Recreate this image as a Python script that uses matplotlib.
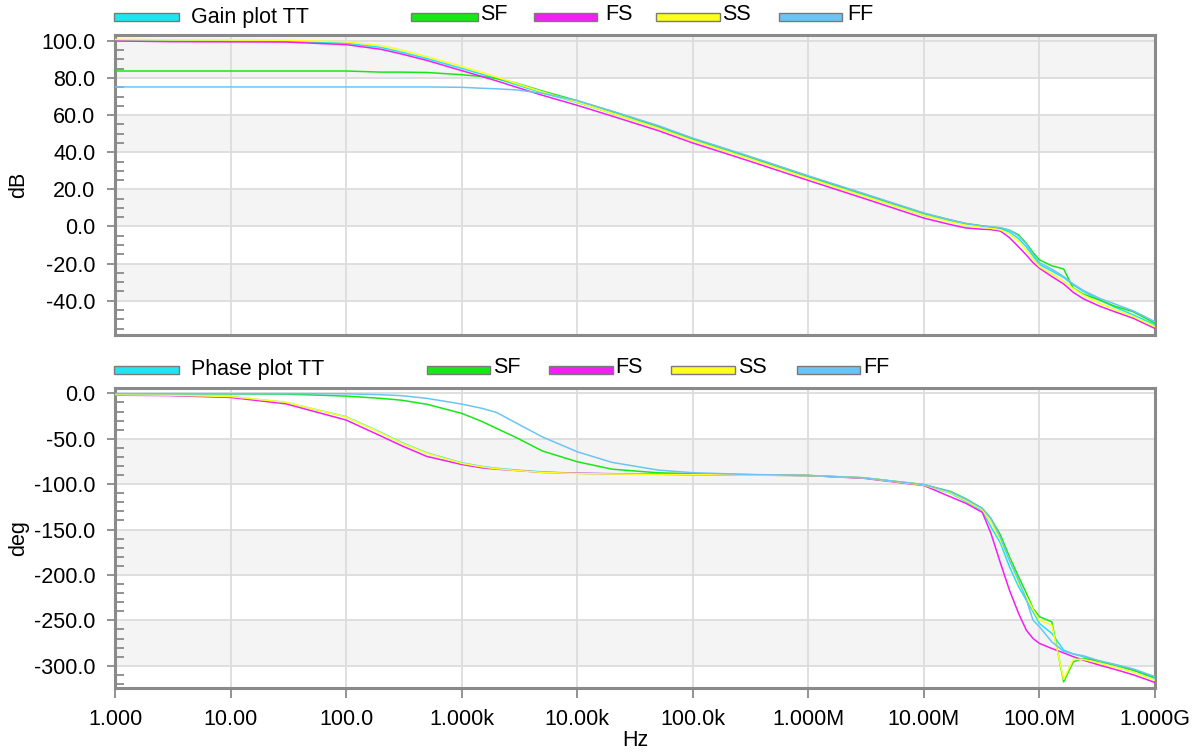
import matplotlib
matplotlib.use("Agg")
import matplotlib.pyplot as plt
from matplotlib.patches import Rectangle
from matplotlib.ticker import FixedLocator, MultipleLocator, NullLocator

# ---- data -------------------------------------------------------------
freq = [1, 3, 10, 30, 100, 200, 300, 500, 1e3, 1.5e3, 2e3, 3e3, 5e3,
        1e4, 2e4, 5e4, 1e5, 3e5, 1e6, 3e6,
        1e7, 1.7e7, 2.3e7, 3.2e7, 3.8e7, 4.6e7, 5.5e7, 6.6e7, 7.7e7, 8.8e7,
        1e8, 1.28e8, 1.62e8, 1.96e8, 2.4e8, 3.3e8, 4.5e8, 6.5e8, 1e9]

gain_tt = [100.2, 100.0, 99.9, 99.8, 98.8, 96.5, 94.0, 90.5, 85.2, 82.0, 79.7, 76.3, 72.0,
           66.8, 61.0, 53.2, 46.5, 37.0, 26.3, 16.8,
           6.0, 3.0, 1.3, 0.0, -0.6, -1.2, -3.0, -6.5, -11.0, -16.0,
           -20.5, -24.0, -27.5, -31.5, -35.0, -39.6, -43.5, -47.7, -53.0]
gain_sf = [83.8, 83.8, 83.8, 83.8, 83.8, 83.2, 83.2, 83.0, 81.8, 80.8, 79.8, 77.2, 73.0,
           67.8, 62.0, 54.0, 47.3, 37.8, 27.0, 17.5,
           7.0, 3.5, 1.6, 0.3, -0.3, -0.8, -2.0, -4.5, -9.1, -14.0,
           -18.0, -21.2, -22.9, -33.3, -36.5, -39.6, -43.0, -46.0, -52.2]
gain_fs = [100.0, 99.6, 99.5, 99.4, 98.0, 95.5, 93.0, 89.5, 84.0, 80.8, 78.5, 75.0, 70.7,
           65.3, 59.5, 51.7, 45.0, 35.5, 24.8, 15.2,
           4.5, 1.0, -0.8, -1.5, -1.7, -2.5, -6.0, -11.0, -15.4, -19.5,
           -22.5, -27.0, -31.0, -35.5, -39.0, -42.9, -46.0, -49.5, -55.0]
gain_ss = [100.8, 100.6, 100.5, 100.4, 99.5, 97.5, 95.2, 91.5, 86.3, 83.0, 80.5, 77.0, 72.5,
           67.0, 61.0, 53.0, 46.3, 36.8, 26.0, 16.5,
           6.0, 2.5, 0.8, -0.5, -1.0, -1.8, -4.0, -8.0, -12.7, -17.5,
           -21.7, -25.5, -29.5, -33.5, -37.0, -41.4, -44.8, -48.6, -54.0]
gain_ff = [75.2, 75.2, 75.2, 75.2, 75.2, 75.2, 75.2, 75.2, 75.0, 74.5, 74.2, 73.6, 71.8,
           67.8, 62.2, 54.4, 47.6, 38.1, 27.3, 17.8,
           7.3, 3.5, 1.6, 0.3, -0.2, -0.7, -2.0, -5.0, -9.5, -15.0,
           -19.5, -23.0, -27.0, -31.0, -34.5, -38.7, -41.8, -45.5, -51.3]

phase_tt = [-1.5, -2.0, -3.5, -10.0, -25.7, -43.0, -54.0, -65.5, -76.5, -80.5, -82.5, -84.5, -86.5,
            -88.0, -88.7, -89.2, -89.5, -90.0, -90.5, -93.0,
            -101.0, -110.0, -119.0, -129.0, -147.0, -165.0, -191.0, -213.0, -227.7, -240.6,
            -253.4, -264.4, -282.8, -287.0, -290.0, -295.7, -299.5, -304.8, -314.0]
phase_sf = [-0.5, -0.5, -0.6, -0.8, -3.0, -5.5, -7.5, -12.0, -22.0, -31.0, -38.5, -49.0, -63.5,
            -75.3, -83.5, -87.5, -88.5, -89.5, -90.5, -93.0,
            -100.5, -108.0, -116.0, -126.7, -137.7, -156.0, -180.0, -202.0, -220.0, -236.8,
            -246.0, -251.6, -317.7, -295.7, -292.0, -295.0, -299.0, -305.0, -313.0]
phase_fs = [-2.0, -2.5, -4.5, -11.5, -29.4, -47.0, -57.5, -69.5, -78.3, -82.0, -83.5, -85.0, -87.0,
            -88.0, -88.5, -89.0, -89.5, -90.0, -90.5, -93.5,
            -101.5, -114.0, -121.0, -131.0, -154.0, -187.0, -216.7, -242.4, -260.8, -270.0,
            -275.4, -281.0, -285.8, -290.0, -293.8, -299.3, -304.0, -310.0, -318.4]
phase_ss = [-1.5, -2.0, -3.5, -9.8, -26.0, -43.5, -54.5, -66.0, -77.0, -81.0, -83.0, -85.0, -87.0,
            -88.3, -88.8, -89.3, -89.6, -90.0, -90.5, -93.0,
            -101.0, -109.5, -118.0, -128.0, -142.0, -161.6, -183.6, -209.0, -224.0, -238.0,
            -249.8, -255.3, -315.0, -293.0, -293.0, -297.0, -301.5, -307.0, -316.0]
phase_ff = [-0.3, -0.3, -0.3, -0.3, -0.5, -1.5, -2.5, -5.5, -11.8, -16.5, -21.0, -33.0, -48.0,
            -64.3, -76.0, -84.5, -87.4, -89.3, -90.5, -93.0,
            -100.5, -108.5, -116.5, -126.7, -138.0, -159.0, -184.0, -206.0, -227.0, -249.8,
            -257.0, -273.7, -284.0, -287.0, -289.0, -294.5, -298.5, -303.5, -312.0]

corner_names = ["TT", "SF", "FS", "SS", "FF"]
corner_colors = ["#1ee6f0", "#16e816", "#f21ef2", "#ffff1e", "#6cc4f4"]

x_ticks = [1, 10, 100, 1e3, 1e4, 1e5, 1e6, 1e7, 1e8, 1e9]
x_labels = ["1.000", "10.00", "100.0", "1.000k", "10.00k", "100.0k",
            "1.000M", "10.00M", "100.0M", "1.000G"]
gain_ticks = [-40, -20, 0, 20, 40, 60, 80, 100]
phase_ticks = [-300, -250, -200, -150, -100, -50, 0]

# ---- figure -----------------------------------------------------------
plt.rcParams["font.family"] = ["Liberation Sans", "DejaVu Sans"]
W, H = 1199, 754
fig = plt.figure(figsize=(W / 100, H / 100), dpi=100)
fig.patch.set_facecolor("white")


def fx(px):
    return px / W


def fy(py):
    return 1 - py / H


ax_g = fig.add_axes([fx(115), fy(335), (1155 - 115) / W, 300 / H])
ax_p = fig.add_axes([fx(115), fy(688), (1155 - 115) / W, 300 / H])

FRAME = "#8a8a8a"
GRID = "#dcdcdc"
BAND = "#f4f4f4"
TICKSIZE = 15.5


def style_axes(ax, yticks, ylim, minor_step, bands, ylabel):
    ax.set_xscale("log")
    ax.set_xlim(1, 1e9)
    ax.set_ylim(*ylim)
    ax.xaxis.set_major_locator(FixedLocator(x_ticks))
    ax.xaxis.set_minor_locator(NullLocator())
    ax.yaxis.set_major_locator(FixedLocator(yticks))
    ax.set_yticklabels([f"{v:.1f}" for v in yticks])
    ax.yaxis.set_minor_locator(MultipleLocator(minor_step))
    for lo, hi in bands:
        ax.axhspan(lo, hi, color=BAND, lw=0, zorder=0)
    ax.grid(True, which="major", color=GRID, lw=1.3, zorder=0.5)
    ax.set_axisbelow(True)
    for sp in ax.spines.values():
        sp.set_color(FRAME)
        sp.set_linewidth(2.2)
    ax.tick_params(axis="y", which="major", direction="out", length=6, width=1.3,
                   color=FRAME, labelsize=TICKSIZE, pad=8)
    ax.tick_params(axis="y", which="minor", direction="in", length=6.5, width=1.3,
                   color=FRAME)
    ax.set_ylabel(ylabel, fontsize=TICKSIZE)
    ax.yaxis.set_label_coords((29 - 115) / 1040, 0.5)


style_axes(ax_g, gain_ticks, (-58.5, 103.2), 5,
           [(-40, -20), (0, 20), (40, 60), (80, 103.2)], "dB")
style_axes(ax_p, phase_ticks, (-324.5, 5.9), 10,
           [(-300, -250), (-200, -150), (-100, -50)], "deg")

ax_g.tick_params(axis="x", which="both", bottom=False, labelbottom=False)
ax_p.set_xticklabels(x_labels)
ax_p.tick_params(axis="x", which="major", direction="out", length=7, width=1.3,
                 color=FRAME, labelsize=TICKSIZE, pad=8)
ax_p.set_xlabel("Hz", fontsize=TICKSIZE, labelpad=0)

gains = [gain_tt, gain_sf, gain_fs, gain_ss, gain_ff]
phases = [phase_tt, phase_sf, phase_fs, phase_ss, phase_ff]
for g, p, c in zip(gains, phases, corner_colors):
    ax_g.plot(freq, g, color=c, lw=1.1, zorder=3)
    ax_p.plot(freq, p, color=c, lw=1.1, zorder=3)

# ---- legend rows above each panel ---------------------------------------
LEGSIZE = 15.5


def legend_row(title, y_c, patch_spans, text_x):
    labels = [title] + corner_names[1:]
    for i, ((x0, x1), tx, c, lab) in enumerate(zip(patch_spans, text_x, corner_colors, labels)):
        fig.add_artist(Rectangle((fx(x0), fy(y_c + 4)), (x1 - x0) / W, 8 / H,
                                 transform=fig.transFigure, facecolor=c,
                                 edgecolor="#7a7a7a", lw=1.0))
        dy = 0 if i == 0 else -2
        fig.text(fx(tx), fy(y_c + dy), lab, fontsize=LEGSIZE, ha="left", va="center")


legend_row("Gain plot TT", 17,
           [(114, 179), (411, 478), (534, 597), (656, 720), (779, 842)],
           [191, 480, 605, 722, 847])
legend_row("Phase plot TT", 370,
           [(114, 179), (427, 490), (549, 613), (671, 735), (797, 860)],
           [191, 493, 615, 738, 863])

fig.savefig("out.png", dpi=100, facecolor="white")
